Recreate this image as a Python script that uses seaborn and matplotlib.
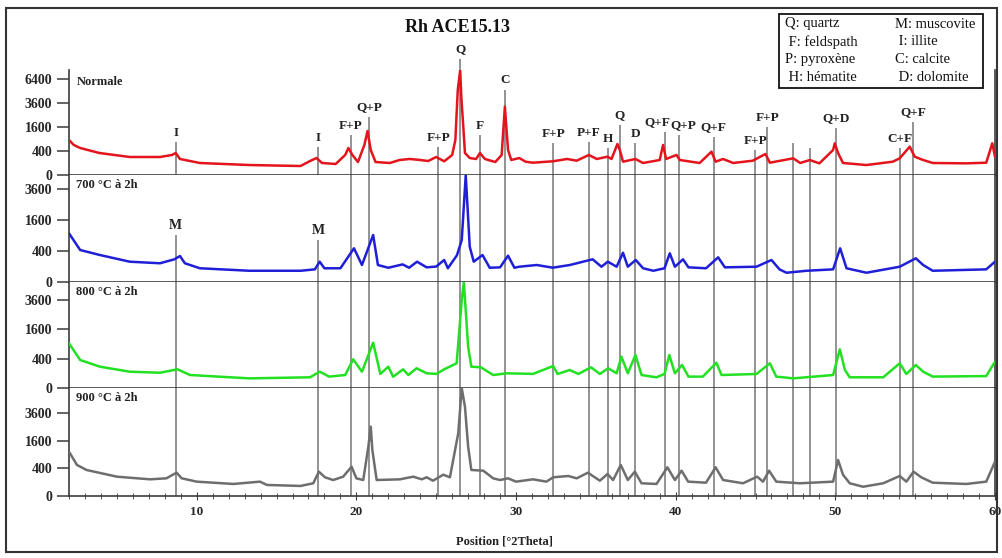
import numpy as np
import matplotlib
matplotlib.use("Agg")
import matplotlib.pyplot as plt
import seaborn as sns
from matplotlib.patches import Rectangle

sns.set_style("ticks")
plt.rcParams['font.family'] = ['Liberation Serif', 'DejaVu Serif']

# ---- diffractograms (Position 2theta, counts) ----
normale_2theta = [2.0, 2.3, 2.7, 3.9, 5.8, 7.7, 8.45, 8.68, 8.95, 10.2, 13.3, 16.5, 17.1, 17.5, 17.85,
                  18.7, 19.3, 19.5, 19.75, 20.1, 20.5, 20.7, 20.9, 21.2, 22.1, 22.7, 23.35, 24.0,
                  24.5, 25.0, 25.5, 26.0, 26.2, 26.35, 26.5, 26.58, 26.68, 26.8, 27.1, 27.5, 27.74,
                  28.05, 28.7, 29.1, 29.3, 29.5, 29.7, 30.2, 30.6, 31.05, 32.3, 33.2, 33.8, 34.56,
                  35.06, 35.73, 35.98, 36.35, 36.5, 36.7, 37.48, 37.95, 39.0, 39.21, 39.4, 40.05,
                  40.26, 41.5, 42.24, 42.5, 42.97, 43.6, 44.83, 45.62, 45.9, 47.36, 47.8, 48.4,
                  49.0, 49.86, 49.96, 50.17, 50.48, 51.95, 53.6, 54.03, 54.66, 54.97, 55.5, 56.1,
                  58.2, 59.45, 59.83, 60.0]
normale_counts = [851, 625, 506, 336, 225, 225, 278, 336, 178, 100, 69, 56, 136, 200, 100,
                  84, 278, 506, 278, 117, 625, 1345, 434, 117, 100, 156, 178, 156,
                  136, 225, 130, 278, 851, 5017, 7600, 4000, 1900, 336, 200, 178, 336,
                  178, 117, 278, 3240, 434, 156, 200, 123, 105, 130, 178, 142, 278,
                  178, 233, 178, 667, 434, 123, 178, 100, 156, 625, 178, 278,
                  156, 100, 377, 123, 178, 100, 142, 306, 105, 193, 100, 156,
                  94, 434, 697, 336, 100, 69, 123, 193, 557, 233, 156, 100,
                  94, 105, 697, 233]

t700_2theta = [2.0, 2.7, 3.94, 5.8, 7.7, 8.6, 8.95, 9.26, 10.2, 13.3, 16.5, 17.4, 17.7, 18.0,
               19.0, 19.85, 20.35, 21.05, 21.35, 22.0, 22.9, 23.3, 23.8, 24.4, 25.0, 25.5, 25.73,
               26.3, 26.6, 26.85, 27.1, 27.35, 27.9, 28.35, 29.0, 29.5, 29.9, 30.2, 31.3, 32.3,
               33.37, 34.8, 35.35, 35.75, 36.3, 36.7, 37.0, 37.5, 37.96, 38.6, 39.3, 39.63,
               39.95, 40.46, 40.8, 41.9, 42.66, 43.08, 45.06, 46.0, 46.5, 46.94, 48.2, 49.86,
               50.3, 50.7, 51.95, 54.03, 55.04, 55.5, 56.1, 59.45, 60.0]
t700_counts = [993, 429, 305, 173, 147, 216, 283, 147, 79, 53, 53, 67, 173, 79,
               79, 476, 121, 925, 121, 85, 130, 85, 173, 90, 100, 203, 79,
               300, 739, 4790, 522, 173, 305, 85, 90, 290, 85, 98, 121, 86,
               121, 216, 98, 173, 98, 360, 98, 203, 79, 53, 79, 345,
               98, 216, 90, 79, 255, 90, 98, 203, 67, 36, 53, 67,
               476, 79, 36, 98, 235, 121, 53, 67, 173]

t800_2theta = [2.0, 2.7, 3.94, 5.8, 7.7, 8.8, 9.58, 13.3, 17.1, 17.7, 18.3, 19.3, 19.8, 20.35,
               21.05, 21.5, 22.0, 22.3, 22.93, 23.25, 23.77, 24.4, 25.02, 25.5, 26.28, 26.6,
               26.73, 27.0, 27.2, 27.8, 28.57, 29.4, 31.07, 32.33, 32.6, 33.37, 33.9, 34.7,
               35.25, 35.77, 36.3, 36.6, 37.0, 37.48, 37.86, 38.8, 39.3, 39.6, 39.95, 40.4,
               40.8, 41.7, 42.55, 42.87, 45.06, 45.9, 46.3, 47.36, 49.86, 50.28, 50.6, 50.9,
               53.0, 54.03, 54.45, 55.04, 55.5, 56.1, 59.45, 60.0]
t800_counts = [924, 363, 210, 123, 108, 162, 78, 43, 53, 123, 60, 78, 381, 123,
               950, 92, 210, 59, 162, 78, 180, 100, 92, 162, 282, 3583,
               5200, 789, 210, 198, 78, 100, 92, 224, 91, 150, 91, 198,
               91, 180, 100, 454, 100, 504, 78, 53, 91, 504, 100, 245,
               60, 60, 296, 78, 91, 282, 60, 43, 78, 693, 150, 53,
               53, 282, 91, 245, 123, 60, 66, 320]

t900_2theta = [2.0, 2.5, 3.1, 5.0, 7.07, 8.1, 8.74, 9.06, 10.0, 12.3, 13.96, 14.4, 16.5, 17.3,
               17.65, 18.03, 18.55, 19.17, 19.7, 20.0, 20.43, 20.75, 20.9, 21.0, 21.27, 22.73,
               23.56, 24.1, 24.4, 24.8, 25.44, 25.86, 26.38, 26.6, 26.8, 27.0, 27.2, 27.95,
               28.57, 29.0, 29.5, 30.0, 31.07, 31.9, 32.33, 33.27, 33.8, 34.5, 35.25, 35.73,
               36.08, 36.56, 37.0, 37.44, 37.86, 38.8, 39.48, 39.95, 40.37, 40.78, 41.9, 42.5,
               42.97, 44.22, 45.1, 45.47, 45.85, 46.3, 47.77, 49.86, 50.17, 50.48, 50.9, 51.74,
               53.0, 54.03, 54.45, 54.9, 55.38, 56.1, 58.2, 59.45, 60.0]
t900_counts = [1031, 505, 355, 196, 146, 164, 285, 164, 108, 76, 108, 64, 53, 85,
               310, 184, 134, 196, 451, 164, 134, 1277, 2522, 1111, 134, 146,
               196, 146, 184, 123, 238, 184, 2064, 6100, 4190, 1277, 355, 336,
               164, 134, 164, 108, 146, 108, 184, 210, 164, 285, 123, 254,
               134, 505, 134, 310, 85, 76, 432, 134, 336, 108, 93, 432,
               134, 85, 196, 108, 336, 108, 85, 108, 680, 238, 85, 45,
               85, 210, 108, 310, 184, 93, 76, 108, 617]

# ---- phase markers ----
peak_pos = [8.68, 17.61, 19.64, 20.81, 25.13, 26.5, 27.74, 29.3, 32.33, 34.56, 35.73, 36.5,
            37.48, 39.3, 40.2, 42.37, 44.98, 45.73, 47.36, 48.4, 50.07, 54.03, 54.87]
peak_tags = ['I', 'I', 'F+P', 'Q+P', 'F+P', 'Q', 'F', 'C', 'F+P', 'P+F', 'H', 'Q',
             'D', 'Q+F', 'Q+P', 'Q+F', 'F+P', 'F+P', '', '', 'Q+D', 'C+F', 'Q+F']
peak_top = [756, 544, 1111, 2336, 544, 9344, 1111, 5017, 711, 756, 506, 1736,
            711, 1300, 1111, 1003, 434, 1600, 711, 506, 1534, 506, 1951]
musc_pos = [8.68, 17.61]
musc_top = [925, 739]

legend_col1 = ['Q: quartz', ' F: feldspath', 'P: pyroxène', ' H: hématite']
legend_col2 = ['M: muscovite', ' I: illite', 'C: calcite', ' D: dolomite']

samples = [
    ('Normale', normale_2theta, normale_counts, '#e3141b', 7650, [0, 400, 1600, 3600, 6400]),
    ('700 °C à 2h', t700_2theta, t700_counts, '#1f1fd8', 4800, [0, 400, 1600, 3600]),
    ('800 °C à 2h', t800_2theta, t800_counts, '#22e022', 5200, [0, 400, 1600, 3600]),
    ('900 °C à 2h', t900_2theta, t900_counts, '#6e6e6e', 6120, [0, 400, 1600, 3600]),
]

W, H = 1003, 558
fig = plt.figure(figsize=(W / 100, H / 100), dpi=100)

# panel pixel boxes (top, bottom)
boxes = [(70, 175), (175, 282), (282, 388), (388, 496)]
left, right = 69, 995
line_col = '#808080'
spine_col = '#3c3c3c'
# small sideways shifts so that crowded tags do not collide
tag_shift = {13: -5, 14: 3}

fwd = lambda v: np.sqrt(np.clip(v, 0, None))
inv = lambda v: np.square(v)

axes = []
for i, (name, xs, ys, col, ytop, yt) in enumerate(samples):
    top, bot = boxes[i]
    ax = fig.add_axes([left / W, 1 - bot / H, (right - left) / W, (bot - top) / H])
    axes.append(ax)
    ax.set_yscale('function', functions=(fwd, inv))
    sns.lineplot(x=xs, y=ys, ax=ax, color=col, linewidth=1.8, sort=False,
                 estimator=None, zorder=3)
    ax.set_xlim(2, 60)
    ax.set_ylim(0, ytop)
    ax.set_yticks(yt)
    ax.set_yticklabels([str(v) for v in yt], fontsize=10, fontweight='bold')
    ax.tick_params(axis='y', direction='out', length=9, width=1.1, color=spine_col, pad=3)
    ax.set_xlabel('')
    ax.set_ylabel('')
    ax.spines['top'].set_visible(False)
    for s in ['left', 'right', 'bottom']:
        ax.spines[s].set_color(spine_col)
        ax.spines[s].set_linewidth(1.2)
    ax.text(0.008, 0.94 if i == 0 else 0.965, name, transform=ax.transAxes, ha='left',
            va='top', fontsize=9, fontweight='bold', color='#222222')

    if i == 0:
        ax.vlines(peak_pos, 0, peak_top, colors=line_col, lw=1.2, zorder=1, clip_on=False)
        for k, (x, tag, t) in enumerate(zip(peak_pos, peak_tags, peak_top)):
            if tag:
                ax.annotate(tag, (x, t), xytext=(tag_shift.get(k, 0), 2.5),
                            textcoords='offset points', ha='center', va='bottom',
                            fontsize=9.5, fontweight='bold', color='#222222',
                            annotation_clip=False)
    elif i == 1:
        for x in peak_pos:
            if x not in musc_pos:
                ax.axvline(x, color=line_col, lw=1.2, zorder=1)
        ax.vlines(musc_pos, 0, musc_top, colors=line_col, lw=1.2, zorder=1)
        for x, t in zip(musc_pos, musc_top):
            ax.annotate('M', (x, t), xytext=(0, 2.5), textcoords='offset points',
                        ha='center', va='bottom', fontsize=10, fontweight='bold',
                        color='#222222')
    else:
        for x in peak_pos:
            ax.axvline(x, color=line_col, lw=1.2, zorder=1)

    if i < 3:
        ax.tick_params(axis='x', bottom=False, labelbottom=False)

ax4 = axes[-1]
ax4.set_xticks([10, 20, 30, 40, 50, 60])
ax4.set_xticks(np.arange(2, 61, 1), minor=True)
ax4.set_xticklabels(['10', '20', '30', '40', '50', '60'], fontsize=9.5, fontweight='bold')
ax4.tick_params(axis='x', which='both', direction='inout', length=6, color=spine_col, pad=4)
ax4.tick_params(axis='x', which='minor', length=5)

fig.text(0.503, 0.03, 'Position [°2Theta]', ha='center', va='center', fontsize=9,
         fontweight='bold', color='#222222')
fig.text(0.456, 0.95, 'Rh ACE15.13', ha='center', va='center', fontsize=13,
         fontweight='bold', color='#111111')

# mineral key
fig.add_artist(Rectangle((779 / W, 1 - 88 / H), 204 / W, 74 / H, transform=fig.transFigure,
                         fill=False, ec='#111111', lw=1.3))
for k, (a, b) in enumerate(zip(legend_col1, legend_col2)):
    yk = 1 - (24 + 17.7 * k) / H
    fig.text(785 / W, yk, a, ha='left', va='center', fontsize=10.5, color='#111111')
    fig.text(895 / W, yk, b, ha='left', va='center', fontsize=10.5, color='#111111')

# outer frame
fig.add_artist(Rectangle((6 / W, 1 - 552 / H), 991 / W, 544 / H, transform=fig.transFigure,
                         fill=False, ec='#333333', lw=1.5))

fig.savefig('out.png', dpi=100)
